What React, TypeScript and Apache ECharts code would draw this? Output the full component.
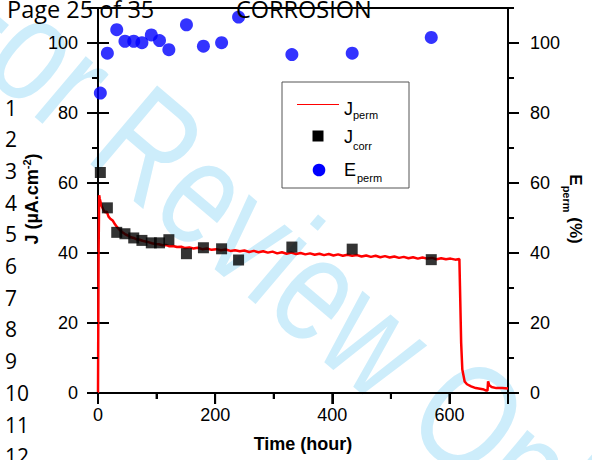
import React, { useEffect, useRef } from "react";
import * as echarts from "echarts";

// Sampling times (hours) shared by J_corr and E_perm
const sampleHours = [4, 16, 32, 46, 61, 75, 91, 105, 121, 151, 180, 211, 240, 331, 434, 569];
const jCorrValues = [63.0, 52.9, 45.9, 45.5, 44.3, 43.6, 42.9, 42.9, 43.8, 39.8, 41.5, 41.2, 38.0, 41.7, 41.1, 38.1];
const ePermValues = [85.7, 97.1, 103.8, 100.5, 100.5, 100.1, 102.3, 100.7, 98.1, 105.2, 99.1, 100.1, 107.4, 96.7, 97.1, 101.6];

// J_perm continuous record
const jPermHours = [
  0, 1, 2, 3, 6, 9, 12, 15, 18, 21, 25, 29, 33, 37, 41, 46, 51, 56, 61, 66, 71, 76, 81, 86, 92, 98,
  104, 110, 116, 122, 128, 135, 142, 149, 156, 163, 170, 178, 186, 194, 202, 210, 218, 226, 234, 242,
  250, 258, 266, 274, 282, 290, 298, 306, 314, 322, 330, 338, 346, 354, 362, 370, 378, 386, 394, 402,
  410, 418, 426, 434, 442, 450, 458, 466, 474, 482, 490, 498, 506, 514, 522, 530, 538, 546, 554, 562,
  570, 578, 586, 594, 602, 610, 617, 618, 620, 622, 626, 630, 637, 645, 657, 663, 665, 666, 668, 672,
  680, 690, 700,
];
const jPermValues = [
  0, 40, 56.5, 55.5, 53.5, 52.4, 51.6, 51.8, 50.4, 49.8, 49.3, 48.2, 47.3, 46.6, 46.0, 45.4, 45.0, 44.5,
  44.3, 43.9, 43.8, 43.5, 43.3, 43.1, 42.8, 42.6, 42.5, 42.2, 42.3, 41.9, 42.0, 41.7, 41.8, 41.4, 41.6,
  41.3, 41.5, 41.1, 41.3, 40.9, 41.1, 40.8, 41.0, 40.6, 40.8, 40.5, 40.7, 40.3, 40.6, 40.2, 40.5, 40.1,
  40.4, 39.9, 40.2, 39.8, 40.1, 39.7, 40.0, 39.6, 39.9, 39.5, 39.8, 39.4, 39.7, 39.3, 39.6, 39.2, 39.5,
  39.2, 39.4, 39.0, 39.3, 38.9, 39.2, 38.8, 39.1, 38.7, 39.0, 38.6, 38.9, 38.5, 38.8, 38.4, 38.7, 38.4,
  38.6, 38.2, 38.5, 38.2, 38.4, 38.1, 38.3, 30.5, 14.4, 6.7, 3.3, 2.5, 1.9, 1.4, 1.1, 0.7, 0.7, 3.3, 2.2,
  1.7, 1.4, 1.4, 1.3,
];

const xMajorTicks = [0, 200, 400, 600];
const xMinorTicks = [100, 300, 500, 700];
const yMajorTicks = [0, 20, 40, 60, 80, 100];
const yMinorTicks = [10, 30, 50, 70, 90];
const lineNumbers = ["1", "2", "3", "4", "5", "6", "7", "8", "9", "10", "11", "12"];

const FONT = "Liberation Sans";
const PAGE_FONT = "Open Sans";
const X_MIN = 0;
const X_MAX = 700;
const Y_MIN = 0;
const Y_MAX = 110;

function staticGraphics(): any[] {
  const graphics: any[] = [];
  graphics.push({
    type: "text",
    x: -42,
    y: -16,
    rotation: (-40.3 * Math.PI) / 180,
    scaleX: 0.78,
    z: -10,
    silent: true,
    style: {
      text: "For Review Only",
      fontFamily: FONT,
      fontSize: 150,
      fill: "#cdedfb",
      align: "left",
      textAlign: "left",
      verticalAlign: "middle",
      textVerticalAlign: "middle",
    },
  });
  const pageText = (text: string, x: number, y: number, size: number) => ({
    type: "text",
    x,
    y,
    z: 100,
    style: { text, fontFamily: PAGE_FONT, fontSize: size, fill: "#000", align: "left", textAlign: "left", verticalAlign: "middle", textVerticalAlign: "middle" },
  });
  graphics.push(pageText("Page 25 of 35", 7, 9, 23.5));
  graphics.push(pageText("CORROSION", 236, 9, 23.5));
  lineNumbers.forEach((n, i) => graphics.push(pageText(n, 5, 107.5 + 31.7 * i, 21)));

  // Axis titles
  const centered = { align: "center", textAlign: "center", verticalAlign: "middle", textVerticalAlign: "middle" };
  graphics.push({
    type: "text",
    x: 303,
    y: 444,
    z: 60,
    style: { text: "Time (hour)", fontFamily: FONT, fontSize: 18, fontWeight: "bold", fill: "#000", ...centered },
  });
  graphics.push({
    type: "text",
    x: 32,
    y: 199,
    rotation: Math.PI / 2,
    z: 60,
    style: {
      text: "{t|J (µA.cm}{sup|-2}{t|)}",
      ...centered,
      rich: {
        t: { fontFamily: FONT, fontSize: 18, fontWeight: "bold", fill: "#000", color: "#000", lineHeight: 22 },
        sup: { fontFamily: FONT, fontSize: 11, fontWeight: "bold", fill: "#000", color: "#000", lineHeight: 12, verticalAlign: "top" },
      },
    },
  });
  graphics.push({
    type: "text",
    x: 575,
    y: 209,
    rotation: -Math.PI / 2,
    z: 60,
    style: {
      text: "{t|E}{sub|perm}{t| (%)}",
      ...centered,
      rich: {
        t: { fontFamily: FONT, fontSize: 17, fontWeight: "bold", fill: "#000", color: "#000", lineHeight: 20 },
        sub: { fontFamily: FONT, fontSize: 11, fontWeight: "bold", fill: "#000", color: "#000", lineHeight: 11, verticalAlign: "bottom", padding: [0, 0, -4, 0] },
      },
    },
  });

  const txt = (text: string, x: number, y: number, size: number) => ({
    type: "text",
    x,
    y,
    z: 50,
    style: { text, fontFamily: FONT, fontSize: size, fill: "#000", align: "left", textAlign: "left", verticalAlign: "middle", textVerticalAlign: "middle" },
  });
  graphics.push({
    type: "rect",
    z: 50,
    shape: { x: 282, y: 82, width: 127, height: 106 },
    style: { fill: "none", stroke: "#555", lineWidth: 1 },
  });
  graphics.push({
    type: "line",
    z: 50,
    shape: { x1: 297, y1: 104.5, x2: 339, y2: 104.5 },
    style: { stroke: "#ff0000", lineWidth: 1 },
  });
  graphics.push(txt("J", 344, 108.5, 18));
  graphics.push(txt("perm", 353, 115, 11));
  graphics.push({
    type: "rect",
    z: 50,
    shape: { x: 312.5, y: 130.5, width: 11, height: 11 },
    style: { fill: "#000" },
  });
  graphics.push(txt("J", 344, 137, 18));
  graphics.push(txt("corr", 353, 145.5, 11));
  graphics.push({
    type: "circle",
    z: 50,
    shape: { cx: 319, cy: 170, r: 6.3 },
    style: { fill: "#0000ff" },
  });
  graphics.push(txt("E", 344, 170, 18));
  graphics.push(txt("perm", 357, 178, 11));
  return graphics;
}

// tick rows: [kind, value]
// kind 0/1 = left major/minor, 2/3 = right major/minor, 4/5 = bottom major/minor
function tickRows(): number[][] {
  return [
    ...yMajorTicks.map((v) => [0, v]),
    ...yMinorTicks.map((v) => [1, v]),
    ...yMajorTicks.map((v) => [2, v]),
    ...yMinorTicks.map((v) => [3, v]),
    ...xMajorTicks.map((v) => [4, v]),
    ...xMinorTicks.map((v) => [5, v]),
  ];
}

function renderTick(params: any, api: any) {
  const kind = Number(api.value(0));
  const v = Number(api.value(1));
  const len = kind % 2 === 0 ? 11 : 6;
  const style = { stroke: "#000", lineWidth: 2 };
  if (kind < 2) {
    const p = api.coord([X_MIN, v]);
    return { type: "line", shape: { x1: p[0] - len, y1: p[1], x2: p[0], y2: p[1] }, style };
  }
  if (kind < 4) {
    const p = api.coord([X_MAX, v]);
    return { type: "line", shape: { x1: p[0], y1: p[1], x2: p[0] + len, y2: p[1] }, style };
  }
  const p = api.coord([v, Y_MIN]);
  return { type: "line", shape: { x1: p[0], y1: p[1], x2: p[0], y2: p[1] + len }, style };
}

function buildOption() {
  const jPermData = jPermHours.map((t, i) => [t, jPermValues[i]]);
  const jCorrData = sampleHours.map((t, i) => [t, jCorrValues[i]]);
  const ePermData = sampleHours.map((t, i) => [t, ePermValues[i]]);

  const labelStyle = { fontFamily: FONT, fontSize: 18, color: "#000" };
  const mkLine = () => ({ show: true, onZero: false, lineStyle: { color: "#000", width: 2 } });
  const tick = (len: number) => ({ show: true, inside: false, length: len, lineStyle: { color: "#000", width: 2 } });

  return {
    animation: false,
    grid: { left: 98, right: 84, top: 8, bottom: 67 },
    xAxis: [
      {
        type: "value",
        min: X_MIN,
        max: X_MAX,
        interval: 100,
        position: "bottom",
        axisLine: mkLine(),
        axisTick: tick(6),
        axisLabel: { ...labelStyle, margin: 13, customValues: xMajorTicks },
        splitLine: { show: false },
      },
      {
        type: "value",
        min: X_MIN,
        max: X_MAX,
        interval: 200,
        position: "bottom",
        axisLine: { show: false },
        axisTick: tick(11),
        axisLabel: { show: false },
        splitLine: { show: false },
      },
      {
        type: "value",
        min: X_MIN,
        max: X_MAX,
        position: "top",
        axisLine: mkLine(),
        axisTick: { show: false },
        axisLabel: { show: false },
        splitLine: { show: false },
      },
    ],
    yAxis: [
      {
        type: "value",
        min: Y_MIN,
        max: Y_MAX,
        interval: 10,
        position: "left",
        axisLine: mkLine(),
        axisTick: tick(6),
        axisLabel: { ...labelStyle, margin: 20, customValues: yMajorTicks },
        splitLine: { show: false },
      },
      {
        type: "value",
        min: Y_MIN,
        max: Y_MAX,
        interval: 10,
        position: "right",
        axisLine: mkLine(),
        axisTick: tick(6),
        axisLabel: { ...labelStyle, margin: 22, customValues: yMajorTicks },
        splitLine: { show: false },
      },
      {
        type: "value",
        min: Y_MIN,
        max: Y_MAX,
        interval: 20,
        position: "left",
        axisLine: { show: false },
        axisTick: tick(11),
        axisLabel: { show: false },
        splitLine: { show: false },
      },
      {
        type: "value",
        min: Y_MIN,
        max: Y_MAX,
        interval: 20,
        position: "right",
        axisLine: { show: false },
        axisTick: tick(11),
        axisLabel: { show: false },
        splitLine: { show: false },
      },
    ],
    graphic: { elements: staticGraphics() },
    series: [
      {
        name: "Jperm",
        type: "line",
        xAxisIndex: 0,
        yAxisIndex: 0,
        data: jPermData,
        symbol: "none",
        showSymbol: false,
        lineStyle: { color: "#ff0000", width: 2.5 },
        z: 3,
      },
      {
        name: "Jcorr",
        type: "scatter",
        xAxisIndex: 0,
        yAxisIndex: 0,
        data: jCorrData,
        symbol: "rect",
        symbolSize: 11,
        itemStyle: { color: "#000" },
        z: 4,
      },
      {
        name: "Eperm",
        type: "scatter",
        xAxisIndex: 0,
        yAxisIndex: 1,
        data: ePermData,
        symbol: "circle",
        symbolSize: 13,
        itemStyle: { color: "#0000ff" },
        z: 4,
      },
      {
        type: "custom",
        xAxisIndex: 0,
        yAxisIndex: 0,
        data: tickRows(),
        renderItem: renderTick,
        clip: false,
        z: 6,
      },
    ],
  };
}

export default function App() {
  const ref = useRef<HTMLDivElement>(null);
  useEffect(() => {
    if (!ref.current) return;
    const chart = echarts.init(ref.current, null, { renderer: "svg" });
    chart.setOption(buildOption() as any);
    return () => {
      chart.dispose();
    };
  }, []);
  return (
    <div style={{ position: "absolute", left: 0, top: 0, width: 592, height: 460, background: "#fff" }}>
      <div ref={ref} style={{ width: 592, height: 460 }} />
    </div>
  );
}
